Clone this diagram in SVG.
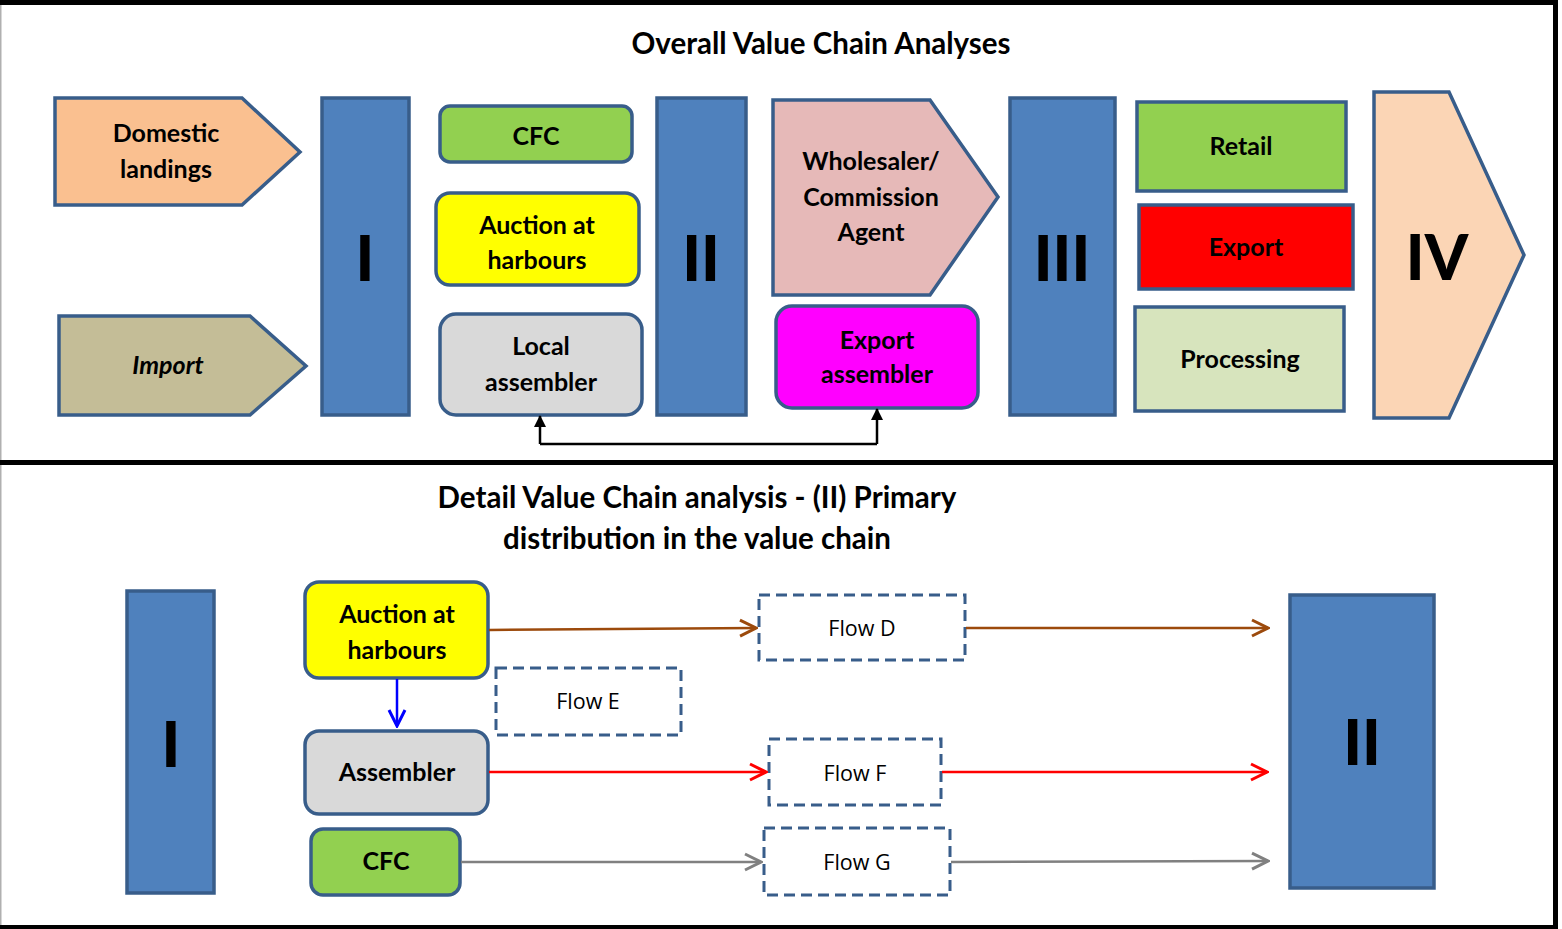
<svg xmlns="http://www.w3.org/2000/svg" width="1562" height="929" viewBox="0 0 1562 929">
  <style>
    text { font-family: "Lato", "Liberation Sans", sans-serif; font-weight: bold; fill: #000; text-anchor: middle; }
    .title { font-size: 29.5px; }
    .lbl { font-size: 25px; }
    .roman { font-size: 62px; font-weight: 900; }
    .flow { font-size: 21.5px; font-weight: normal; font-family: "Open Sans", "Liberation Sans", sans-serif; }
    .edge { stroke: #385D8A; stroke-width: 3.5; }
    .bar { fill: #4F81BD; stroke: #385D8A; stroke-width: 3.5; }
    .dash { fill: #fff; stroke: #385D8A; stroke-width: 3; stroke-dasharray: 11 6; }
    .conn { fill: none; stroke-width: 2.5; }
  </style>
  <defs>
    <marker id="tri" viewBox="0 0 12 12" refX="11" refY="6" markerWidth="12" markerHeight="12" markerUnits="userSpaceOnUse" orient="auto">
      <path d="M0,0 L12,6 L0,12 z" fill="#000"/>
    </marker>
    <marker id="openBrown" viewBox="0 0 20 20" refX="18" refY="10" markerWidth="20" markerHeight="20" markerUnits="userSpaceOnUse" orient="auto">
      <path d="M2,2 L18,10 L2,18" fill="none" stroke="#9C4A0C" stroke-width="3"/>
    </marker>
    <marker id="openRed" viewBox="0 0 20 20" refX="18" refY="10" markerWidth="20" markerHeight="20" markerUnits="userSpaceOnUse" orient="auto">
      <path d="M2,2 L18,10 L2,18" fill="none" stroke="#FF0000" stroke-width="3"/>
    </marker>
    <marker id="openGray" viewBox="0 0 20 20" refX="18" refY="10" markerWidth="20" markerHeight="20" markerUnits="userSpaceOnUse" orient="auto">
      <path d="M2,2 L18,10 L2,18" fill="none" stroke="#808080" stroke-width="3"/>
    </marker>
    <marker id="openBlue" viewBox="0 0 20 20" refX="18" refY="10" markerWidth="20" markerHeight="20" markerUnits="userSpaceOnUse" orient="auto">
      <path d="M2,2 L18,10 L2,18" fill="none" stroke="#0000FF" stroke-width="3"/>
    </marker>
  </defs>

  <!-- frame -->
  <g id="frame">
    <rect x="0" y="0" width="1562" height="929" fill="#fff"/>
    <rect x="0" y="0" width="1.5" height="929" fill="#B0B0B0"/>
    <rect x="0" y="0" width="1558" height="5" fill="#000"/>
    <rect x="1553" y="0" width="5" height="929" fill="#000"/>
    <rect x="0" y="460" width="1558" height="5" fill="#000"/>
    <rect x="0" y="925" width="1558" height="4" fill="#000"/>
  </g>

  <!-- overall chain -->
  <text class="title" x="821" y="54">Overall Value Chain Analyses</text>

  <g id="domestic">
    <polygon class="edge" points="55,98 242,98 300,152 242,205 55,205" fill="#FAC090"/>
    <text class="lbl" x="166" y="142">Domestic</text>
    <text class="lbl" x="166" y="178">landings</text>
  </g>
  <g id="import">
    <polygon class="edge" points="59,316 250,316 306,366 250,415 59,415" fill="#C4BD97"/>
    <text class="lbl" x="168" y="374" font-style="italic">Import</text>
  </g>
  <g id="stage1">
    <rect class="bar" x="322" y="98" width="87" height="317"/>
    <text class="roman" x="365" y="281">I</text>
  </g>
  <g id="cfc-top">
    <rect class="edge" x="440" y="106" width="192" height="56" rx="10" fill="#92D050"/>
    <text class="lbl" x="536" y="145">CFC</text>
  </g>
  <g id="auction-top">
    <rect class="edge" x="436" y="193" width="203" height="92" rx="14" fill="#FFFF00"/>
    <text class="lbl" x="537" y="234">Auction at</text>
    <text class="lbl" x="537" y="269">harbours</text>
  </g>
  <g id="local-assembler">
    <rect class="edge" x="440" y="314" width="202" height="101" rx="16" fill="#D9D9D9"/>
    <text class="lbl" x="541" y="355">Local</text>
    <text class="lbl" x="541" y="391">assembler</text>
  </g>
  <g id="stage2">
    <rect class="bar" x="657" y="98" width="89" height="317"/>
    <text class="roman" x="701" y="281">II</text>
  </g>
  <g id="wholesaler">
    <polygon class="edge" points="773,100 930,100 998,197 930,295 773,295" fill="#E6B9B8"/>
    <text class="lbl" x="871" y="170">Wholesaler/</text>
    <text class="lbl" x="871" y="206">Commission</text>
    <text class="lbl" x="871" y="241">Agent</text>
  </g>
  <g id="export-assembler">
    <rect class="edge" x="776" y="306" width="202" height="102" rx="16" fill="#FF00FF"/>
    <text class="lbl" x="877" y="349">Export</text>
    <text class="lbl" x="877" y="383">assembler</text>
  </g>
  <g id="stage3">
    <rect class="bar" x="1010" y="98" width="105" height="317"/>
    <text class="roman" x="1062" y="281">III</text>
  </g>
  <g id="retail">
    <rect class="edge" x="1137" y="102" width="209" height="89" fill="#92D050"/>
    <text class="lbl" x="1241" y="155">Retail</text>
  </g>
  <g id="export">
    <rect class="edge" x="1139" y="205" width="214" height="84" fill="#FF0000"/>
    <text class="lbl" x="1246" y="256">Export</text>
  </g>
  <g id="processing">
    <rect class="edge" x="1135" y="307" width="209" height="104" fill="#D7E4BD"/>
    <text class="lbl" x="1240" y="368">Processing</text>
  </g>
  <g id="stage4">
    <polygon class="edge" points="1374,92 1449,92 1524,255 1449,418 1374,418" fill="#FBD5B5"/>
    <text class="roman" x="1437" y="280">IV</text>
  </g>

  <!-- detail of stage II -->
  <text class="title" x="697" y="508">Detail Value Chain analysis - (II) Primary</text>
  <text class="title" x="697" y="549">distribution in the value chain</text>

  <g id="detail-stage1">
    <rect class="bar" x="127" y="591" width="87" height="302"/>
    <text class="roman" x="171" y="767">I</text>
  </g>
  <g id="auction">
    <rect class="edge" x="305" y="582" width="183" height="96" rx="14" fill="#FFFF00"/>
    <text class="lbl" x="397" y="623">Auction at</text>
    <text class="lbl" x="397" y="659">harbours</text>
  </g>
  <g id="assembler">
    <rect class="edge" x="305" y="731" width="183" height="83" rx="14" fill="#D9D9D9"/>
    <text class="lbl" x="397" y="781">Assembler</text>
  </g>
  <g id="cfc">
    <rect class="edge" x="311" y="829" width="149" height="66" rx="12" fill="#92D050"/>
    <text class="lbl" x="386" y="870">CFC</text>
  </g>
  <g id="flow-d">
    <rect class="dash" x="759" y="595" width="206" height="65"/>
    <text class="flow" x="862" y="636">Flow D</text>
  </g>
  <g id="flow-e">
    <rect class="dash" x="496" y="668" width="185" height="67"/>
    <text class="flow" x="588" y="709">Flow E</text>
  </g>
  <g id="flow-f">
    <rect class="dash" x="769" y="739" width="172" height="66"/>
    <text class="flow" x="855" y="781">Flow F</text>
  </g>
  <g id="flow-g">
    <rect class="dash" x="764" y="828" width="186" height="67"/>
    <text class="flow" x="857" y="870">Flow G</text>
  </g>
  <g id="detail-stage2">
    <rect class="bar" x="1290" y="595" width="144" height="293"/>
    <text class="roman" x="1362" y="765">II</text>
  </g>

  <!-- connectors -->
  <g id="connectors">
    <path class="conn" d="M540,444 L877,444" stroke="#000"/>
    <path class="conn" d="M540,444 L540,416" stroke="#000" marker-end="url(#tri)"/>
    <path class="conn" d="M877,444 L877,409" stroke="#000" marker-end="url(#tri)"/>

    <path class="conn" d="M397,679 L397,726" stroke="#0000FF" marker-end="url(#openBlue)"/>

    <path class="conn" d="M489,630 L756,628" stroke="#9C4A0C" marker-end="url(#openBrown)"/>
    <path class="conn" d="M966,628 L1268,628" stroke="#9C4A0C" marker-end="url(#openBrown)"/>

    <path class="conn" d="M489,772 L766,772" stroke="#FF0000" marker-end="url(#openRed)"/>
    <path class="conn" d="M942,772 L1267,772" stroke="#FF0000" marker-end="url(#openRed)"/>

    <path class="conn" d="M461,862 L761,862" stroke="#808080" marker-end="url(#openGray)"/>
    <path class="conn" d="M951,862 L1268,861" stroke="#808080" marker-end="url(#openGray)"/>
  </g>
</svg>
